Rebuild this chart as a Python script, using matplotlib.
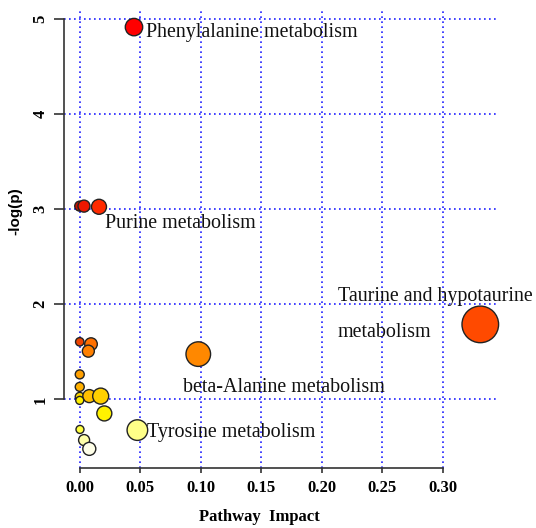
import matplotlib
matplotlib.use("Agg")
import matplotlib.pyplot as plt

# ---- data ----
impact = [0.0448, 0.0, 0.0035, 0.0159, 0.3308, 0.0, 0.0093, 0.0071, 0.0979,
          0.0, 0.0, 0.0, 0.0079, 0.0173, 0.0, 0.0203, 0.0002, 0.0476, 0.0036, 0.0079]
logp = [4.91, 3.03, 3.03, 3.023, 1.788, 1.605, 1.581, 1.507, 1.476,
        1.263, 1.132, 1.027, 1.035, 1.035, 0.99, 0.853, 0.685, 0.678, 0.573, 0.481]
radius_px = [8.7, 5.0, 6.0, 7.5, 18.3, 4.2, 6.3, 6.0, 12.3,
             4.5, 4.5, 4.5, 6.5, 8.0, 4.0, 7.5, 4.0, 10.3, 5.5, 6.5]
colors = ["#FF0000", "#CC1100", "#EE1800", "#FF2A00", "#FF4A00", "#EE4400", "#FF7000",
          "#FF8000", "#FF8800", "#FFA000", "#FFB000", "#FFD800", "#FFC000", "#FFD000",
          "#FFF000", "#FFF200", "#FFFF40", "#FFFF88", "#FFFFA8", "#FFFFE8"]

labels = {0: "Phenylalanine metabolism", 3: "Purine metabolism",
          8: "beta-Alanine metabolism", 17: "Tyrosine metabolism"}
label_offsets = {0: (12.4, -10), 3: (6, -21.3), 8: (-15.3, -38), 17: (10, -7.3)}
taurine_idx = 4
taurine_lines = ["Taurine and hypotaurine", "metabolism"]
taurine_offsets = [(-142, 23.3), (-143, -12.4)]

xticks = [0.00, 0.05, 0.10, 0.15, 0.20, 0.25, 0.30]
xticklabels = ["0.00", "0.05", "0.10", "0.15", "0.20", "0.25", "0.30"]
yticks = [1, 2, 3, 4, 5]

W, H = 536, 528
fig = plt.figure(figsize=(W / 100, H / 100), dpi=100)
ax = fig.add_axes([64 / W, 1 - 468 / H, (497 - 64) / W, (468 - 9) / H])

ax.set_xlim(-0.013, 0.3446)
ax.set_ylim(0.28, 5.1)

sizes = [(1.44 * r) ** 2 for r in radius_px]
ax.scatter(impact, logp, s=sizes, c=colors, edgecolors="#222222", linewidths=1.0,
           zorder=3, clip_on=False)

ax.set_xticks(xticks)
ax.set_xticklabels(xticklabels)
ax.set_yticks(yticks)
ax.set_yticklabels([str(v) for v in yticks], rotation=90, va="center")

ax.grid(True, color="#2020FF", linestyle=(0, (1, 2)), linewidth=1.2, zorder=1)

for s in ["top", "right"]:
    ax.spines[s].set_visible(False)
ax.spines["left"].set_bounds(1, 5)
ax.spines["bottom"].set_bounds(0, 0.30)
for s in ["left", "bottom"]:
    ax.spines[s].set_color("#333333")
    ax.spines[s].set_linewidth(1.2)

ax.tick_params(axis="x", length=3.4, width=1.2, color="#333333", pad=5,
               labelsize=12)
ax.tick_params(axis="y", length=7, width=1.2, color="#333333", pad=4,
               labelsize=12)
for t in ax.get_xticklabels() + ax.get_yticklabels():
    t.set_family("Liberation Serif")
    t.set_weight("bold")

for i, txt in labels.items():
    ax.annotate(txt, (impact[i], logp[i]), xytext=label_offsets[i],
                textcoords="offset pixels", ha="left", va="baseline",
                family="Liberation Serif", fontsize=14.4, color="#111111", zorder=4)
for txt, off in zip(taurine_lines, taurine_offsets):
    ax.annotate(txt, (impact[taurine_idx], logp[taurine_idx]), xytext=off,
                textcoords="offset pixels", ha="left", va="baseline",
                family="Liberation Serif", fontsize=14.4, color="#111111", zorder=4)

fig.text(15 / W, 1 - 211 / H, "-log(p)", rotation=90, ha="center", va="center",
         family="Liberation Sans", weight="bold", fontsize=11)
fig.text(259 / W, 1 - 517 / H, "Pathway  Impact", ha="center", va="center",
         family="Liberation Serif", weight="bold", fontsize=12)

fig.savefig("out.png", dpi=100)
